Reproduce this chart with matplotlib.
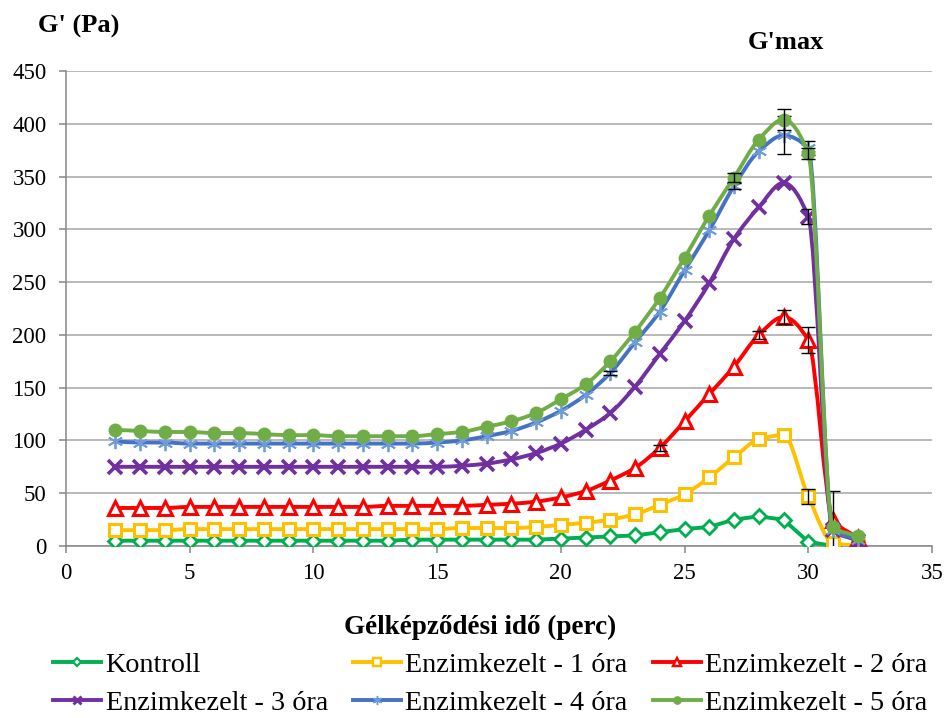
import numpy as np
import matplotlib as mpl
mpl.use("Agg")
import matplotlib.pyplot as plt
from matplotlib.path import Path
from matplotlib.patches import PathPatch
from matplotlib.lines import Line2D

mpl.rcParams.update({
    "font.family": "Liberation Serif",
    "font.size": 16,
})

# gel formation time, minutes
t = np.arange(2, 33)

kontroll = [5, 5, 5, 5, 5, 5, 5, 5, 5, 5, 5, 5, 6, 6, 6, 6, 6, 6,
            7, 8, 9, 10, 13, 16, 18, 25, 28, 25, 4, 0, 0]
enz_1h = [15, 15, 15, 16, 16, 16, 16, 16, 16, 16, 16, 16, 16, 16, 17, 17, 17, 18,
          20, 22, 25, 30, 39, 49, 65, 84, 101, 105, 47, 3, 0]
enz_2h = [36, 36, 36, 37, 37, 37, 37, 37, 37, 37, 37, 38, 38, 38, 38, 39, 40, 42,
          46, 52, 62, 74, 93, 118, 144, 170, 200, 217, 195, 25, 8]
enz_3h = [75, 75, 75, 75, 75, 75, 75, 75, 75, 75, 75, 75, 75, 75, 76, 78, 82, 88,
          97, 110, 126, 151, 182, 213, 249, 291, 321, 344, 312, 15, 5]
enz_4h = [99, 98, 98, 97, 97, 97, 97, 97, 97, 97, 97, 97, 97, 98, 100, 104, 109, 117,
          128, 143, 164, 193, 222, 261, 299, 341, 374, 389, 377, 15, 6]
enz_5h = [110, 109, 108, 108, 107, 107, 106, 105, 105, 104, 104, 104, 104, 106, 108, 113, 118, 126,
          139, 153, 175, 203, 235, 273, 313, 349, 385, 404, 372, 18, 9]

# standard deviations, only where they are visible
err_1h = {30: 7}
err_2h = {24: 3, 28: 4, 29: 7, 30: 12, 31: 27}
err_3h = {30: 7}
err_4h = {22: 2, 27: 3, 29: 18, 30: 7}
err_5h = {27: 4, 29: 10, 30: 5}

labels = ["Kontroll", "Enzimkezelt - 1 óra", "Enzimkezelt - 2 óra",
          "Enzimkezelt - 3 óra", "Enzimkezelt - 4 óra", "Enzimkezelt - 5 óra"]

styles = [
    dict(color="#00B050", marker="D", ms=7, mfc="white", mec="#00B050", mew=2.0, smooth=False),
    dict(color="#FFC000", marker="s", ms=9, mfc="white", mec="#FFC000", mew=2.2, smooth=True),
    dict(color="#FF0000", marker="^", ms=10, mfc="white", mec="#FF0000", mew=2.2, smooth=True),
    dict(color="#7030A0", marker="x", ms=10, mfc="#7030A0", mec="#7030A0", mew=2.6, smooth=True),
    dict(color="#4472C4", marker=(6, 2, 0), ms=11, mfc="#4472C4", mec="#6F9BD8", mew=1.3, smooth=True),
    dict(color="#70AD47", marker="o", ms=9, mfc="#70AD47", mec="#70AD47", mew=1.0, smooth=True),
]


def smooth_path(x, y):
    """Cubic Bezier path through the points with monotone tangents (no overshoot)."""
    x = np.asarray(x, dtype=float)
    y = np.asarray(y, dtype=float)
    n = len(x)
    d = np.diff(y) / np.diff(x)
    m = np.zeros(n)
    m[0], m[-1] = d[0], d[-1]
    for i in range(1, n - 1):
        if d[i - 1] * d[i] > 0:
            m[i] = 2.0 / (1.0 / d[i - 1] + 1.0 / d[i])
    verts = [(x[0], y[0])]
    codes = [Path.MOVETO]
    for i in range(n - 1):
        h = (x[i + 1] - x[i]) / 3.0
        verts += [(x[i] + h, y[i] + m[i] * h),
                  (x[i + 1] - h, y[i + 1] - m[i + 1] * h),
                  (x[i + 1], y[i + 1])]
        codes += [Path.CURVE4] * 3
    return Path(verts, codes)


fig = plt.figure(figsize=(9.45, 7.18), dpi=100)
ax = fig.add_axes([0.0698, 0.2396, 0.9164, 0.6615])

series = [kontroll, enz_1h, enz_2h, enz_3h, enz_4h, enz_5h]
errors = [{}, err_1h, err_2h, err_3h, err_4h, err_5h]

for k, (y, err, st) in enumerate(zip(series, errors, styles)):
    y = np.asarray(y, dtype=float)
    z = 3 + k
    if st["smooth"]:
        ax.add_patch(PathPatch(smooth_path(t, y), fill=False, edgecolor=st["color"],
                               lw=2.8, capstyle="round", joinstyle="round", zorder=z))
        ax.plot(t, y, ls="none", marker=st["marker"], ms=st["ms"], mfc=st["mfc"],
                mec=st["mec"], mew=st["mew"], zorder=z + 0.5)
    else:
        ax.plot(t, y, color=st["color"], lw=2.8, marker=st["marker"], ms=st["ms"],
                mfc=st["mfc"], mec=st["mec"], mew=st["mew"], zorder=z)
    if err:
        ex = np.array(list(err.keys()))
        ey = y[ex - t[0]]
        ax.errorbar(ex, ey, yerr=list(err.values()), fmt="none", ecolor="black",
                    elinewidth=1.0, capsize=5, capthick=1.0, zorder=z + 0.6)

ax.set_xlim(0, 35)
ax.set_ylim(0, 450)
ax.set_xticks(np.arange(0, 36, 5))
ax.set_yticks(np.arange(0, 451, 50))
ax.grid(axis="y", color="#A6A6A6", lw=1.1, zorder=0)
ax.set_axisbelow(True)
for side in ("top", "right"):
    ax.spines[side].set_visible(False)
for side in ("left", "bottom"):
    ax.spines[side].set_color("#868686")
    ax.spines[side].set_linewidth(1.1)
ax.tick_params(axis="both", direction="out", length=5, width=1.1, color="#868686",
               labelsize=16.5)
ax.tick_params(axis="y", pad=9)
ax.tick_params(axis="x", pad=7)

fig.text(0.040, 0.963, "G' (Pa)", fontsize=19, fontweight="bold", ha="left", va="center")
fig.text(0.832, 0.941, "G'max", fontsize=19, fontweight="bold", ha="center", va="center")
fig.text(0.508, 0.126, "Gélképződési idő (perc)", fontsize=19.5, fontweight="bold",
         ha="center", va="center")

handles = []
for lab, st in zip(labels, styles):
    handles.append(Line2D([0], [0], color=st["color"], lw=2.8, marker=st["marker"],
                          ms=st["ms"] * 0.6, mfc=st["mfc"], mec=st["mec"],
                          mew=st["mew"] * 0.8, label=lab))
order = [0, 3, 1, 4, 2, 5]
fig.legend([handles[i] for i in order], [labels[i] for i in order], loc="center",
           bbox_to_anchor=(0.519, 0.047), ncol=3, frameon=False, fontsize=20.3,
           handlelength=1.7, handletextpad=0.15, columnspacing=0.9, labelspacing=0.42,
           borderpad=0.0)

fig.savefig("out.png", dpi=100)
